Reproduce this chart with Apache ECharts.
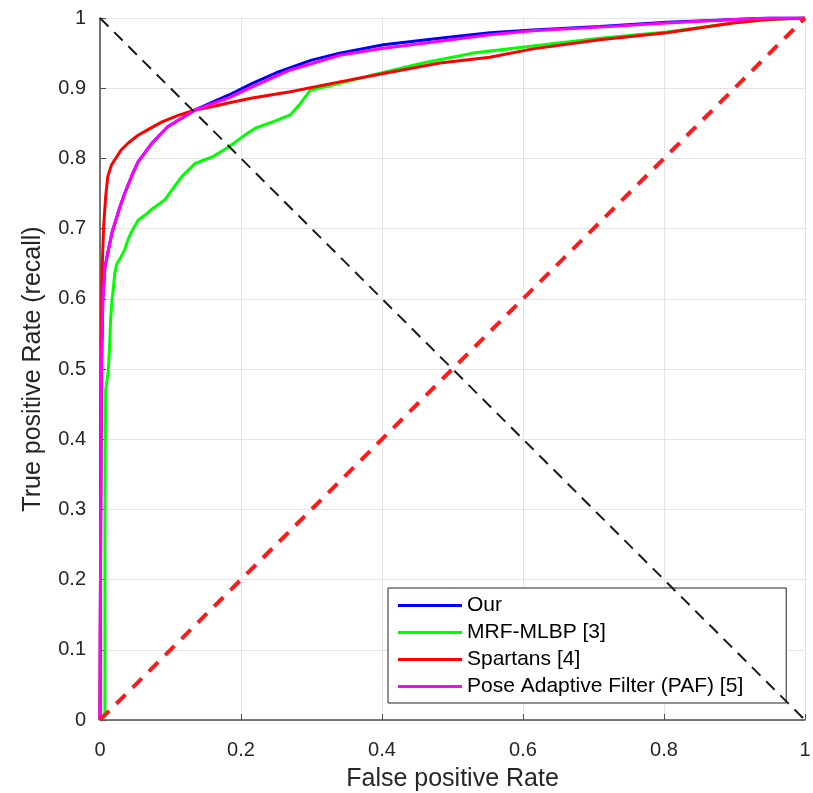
<!DOCTYPE html>
<html>
<head>
<meta charset="utf-8">
<title>ROC</title>
<script src="https://cdn.jsdelivr.net/npm/echarts@6/dist/echarts.min.js"></script>
<style>
    html, body { margin: 0; padding: 0; background: #fff; }
    #main { width: 813px; height: 793px; }
</style>
</head>
<body>
<div id="main"></div>
<script>
    /*数据: 每条曲线的 FPR / TPR*/
    var ourFpr = [0, 0.001, 0.002, 0.004, 0.007, 0.012, 0.017, 0.028, 0.035, 0.045, 0.054, 0.074, 0.096, 0.135, 0.182, 0.216, 0.25, 0.3, 0.34, 0.402, 0.482, 0.553, 0.614, 0.709, 0.804, 0.9, 0.95, 1];
    var ourTpr = [0, 0.3, 0.5, 0.598, 0.645, 0.67, 0.694, 0.73, 0.75, 0.775, 0.795, 0.822, 0.845, 0.869, 0.89, 0.907, 0.922, 0.94, 0.95, 0.962, 0.971, 0.979, 0.983, 0.988, 0.994, 0.998, 1, 1];

    var pafFpr = [0, 0.001, 0.002, 0.004, 0.007, 0.012, 0.017, 0.028, 0.035, 0.045, 0.054, 0.074, 0.096, 0.135, 0.182, 0.216, 0.27, 0.34, 0.402, 0.482, 0.553, 0.614, 0.709, 0.804, 0.9, 0.95, 1];
    var pafTpr = [0, 0.3, 0.5, 0.598, 0.645, 0.67, 0.694, 0.73, 0.75, 0.775, 0.795, 0.822, 0.845, 0.869, 0.886, 0.902, 0.926, 0.947, 0.957, 0.967, 0.976, 0.982, 0.987, 0.993, 0.998, 1, 1];

    var mrfFpr = [0, 0.007, 0.007, 0.008, 0.01, 0.012, 0.014, 0.015, 0.017, 0.019, 0.021, 0.024, 0.03, 0.035, 0.04, 0.045, 0.054, 0.065, 0.074, 0.092, 0.102, 0.116, 0.135, 0.159, 0.182, 0.201, 0.22, 0.245, 0.27, 0.284, 0.298, 0.34, 0.387, 0.458, 0.529, 0.614, 0.709, 0.804, 0.898, 0.95, 1];
    var mrfTpr = [0, 0.01, 0.3, 0.47, 0.484, 0.5, 0.541, 0.57, 0.598, 0.615, 0.637, 0.65, 0.66, 0.67, 0.685, 0.696, 0.712, 0.72, 0.728, 0.741, 0.755, 0.774, 0.793, 0.802, 0.816, 0.83, 0.843, 0.852, 0.862, 0.878, 0.897, 0.907, 0.919, 0.936, 0.95, 0.96, 0.971, 0.98, 0.993, 0.998, 1];

    var spaFpr = [0, 0.001, 0.002, 0.003, 0.005, 0.008, 0.011, 0.016, 0.021, 0.03, 0.04, 0.054, 0.07, 0.088, 0.11, 0.135, 0.16, 0.182, 0.216, 0.27, 0.34, 0.402, 0.482, 0.553, 0.614, 0.709, 0.804, 0.898, 0.946, 1];
    var spaTpr = [0, 0.3, 0.55, 0.64, 0.7, 0.745, 0.774, 0.79, 0.798, 0.812, 0.822, 0.833, 0.842, 0.852, 0.861, 0.869, 0.874, 0.879, 0.886, 0.895, 0.909, 0.921, 0.936, 0.944, 0.956, 0.969, 0.979, 0.993, 0.998, 1];

    var names = ['Our', 'MRF-MLBP [3]', 'Spartans [4]', 'Pose Adaptive Filter (PAF) [5]'];
    var colors = ['#0000ff', '#00ff00', '#ff0000', '#ff00ff'];

    var blackDiag = [[0, 1], [1, 0]];
    var redDiag = [[0, 0], [1, 1]];

    function zip(xs, ys) {
        var out = [];
        for (var i = 0; i < xs.length; i++) {
            out.push([xs[i], ys[i]]);
        }
        return out;
    }

    function curve(name, color, data) {
        return {
            name: name,
            type: 'line',
            data: data,
            symbol: 'none',
            smooth: false,
            lineStyle: { color: color, width: 3 },
            itemStyle: { color: color },
            z: 3
        };
    }

    var font = 'Liberation Sans';
    var myChart = echarts.init(document.getElementById('main'));
    var option = {
        animation: false,
        grid: {
            left: 100,
            right: 8,
            top: 18,
            bottom: 73,
            containLabel: false,
            outerBoundsMode: 'none'   // 固定绘图区, 不让标签挤压
        },
        legend: {
            orient: 'vertical',
            left: 388,
            top: 588,
            data: names,
            icon: 'rect',
            itemWidth: 64,
            itemHeight: 3,
            itemGap: 0,
            padding: [4, 43, 3, 10],
            backgroundColor: '#fff',
            borderColor: '#222',
            borderWidth: 1,
            borderRadius: 0,
            textStyle: { fontFamily: font, fontSize: 21, color: '#000', lineHeight: 27 }
        },
        xAxis: {
            type: 'value',
            min: 0,
            max: 1,
            interval: 0.2,
            name: 'False positive Rate',
            nameLocation: 'middle',
            nameGap: 47,
            nameTextStyle: { fontFamily: font, fontSize: 25, color: '#262626' },
            axisLine: { lineStyle: { color: '#4d4d4d', width: 1.5 } },
            axisTick: { inside: true, length: 6, lineStyle: { color: '#4d4d4d' } },
            axisLabel: { fontFamily: font, fontSize: 20, color: '#262626', margin: 20 },
            splitLine: { lineStyle: { color: '#e3e3e3', width: 1 } }
        },
        yAxis: {
            type: 'value',
            min: 0,
            max: 1,
            interval: 0.1,
            name: 'True positive Rate (recall)',
            nameLocation: 'middle',
            nameGap: 54,
            nameTextStyle: { fontFamily: font, fontSize: 25, color: '#262626' },
            axisLine: { show: true, lineStyle: { color: '#4d4d4d', width: 1.5 } },
            axisTick: { show: true, inside: true, length: 6, lineStyle: { color: '#4d4d4d' } },
            axisLabel: { fontFamily: font, fontSize: 20, color: '#262626', margin: 14 },
            splitLine: { lineStyle: { color: '#e3e3e3', width: 1 } }
        },
        series: [
            curve(names[0], colors[0], zip(ourFpr, ourTpr)),
            curve(names[1], colors[1], zip(mrfFpr, mrfTpr)),
            curve(names[2], colors[2], zip(spaFpr, spaTpr)),
            curve(names[3], colors[3], zip(pafFpr, pafTpr)),
            {   // 黑色虚线对角线
                type: 'line',
                data: blackDiag,
                symbol: 'none',
                silent: true,
                lineStyle: { color: '#1a1a1a', width: 2, type: [12, 8] },
                z: 4
            },
            {   // 红色虚线 随机猜测
                type: 'line',
                data: redDiag,
                symbol: 'none',
                silent: true,
                lineStyle: { color: '#ff1a1a', width: 4, type: [13, 10] },
                z: 4
            }
        ]
    };
    myChart.setOption(option);
</script>
</body>
</html>
